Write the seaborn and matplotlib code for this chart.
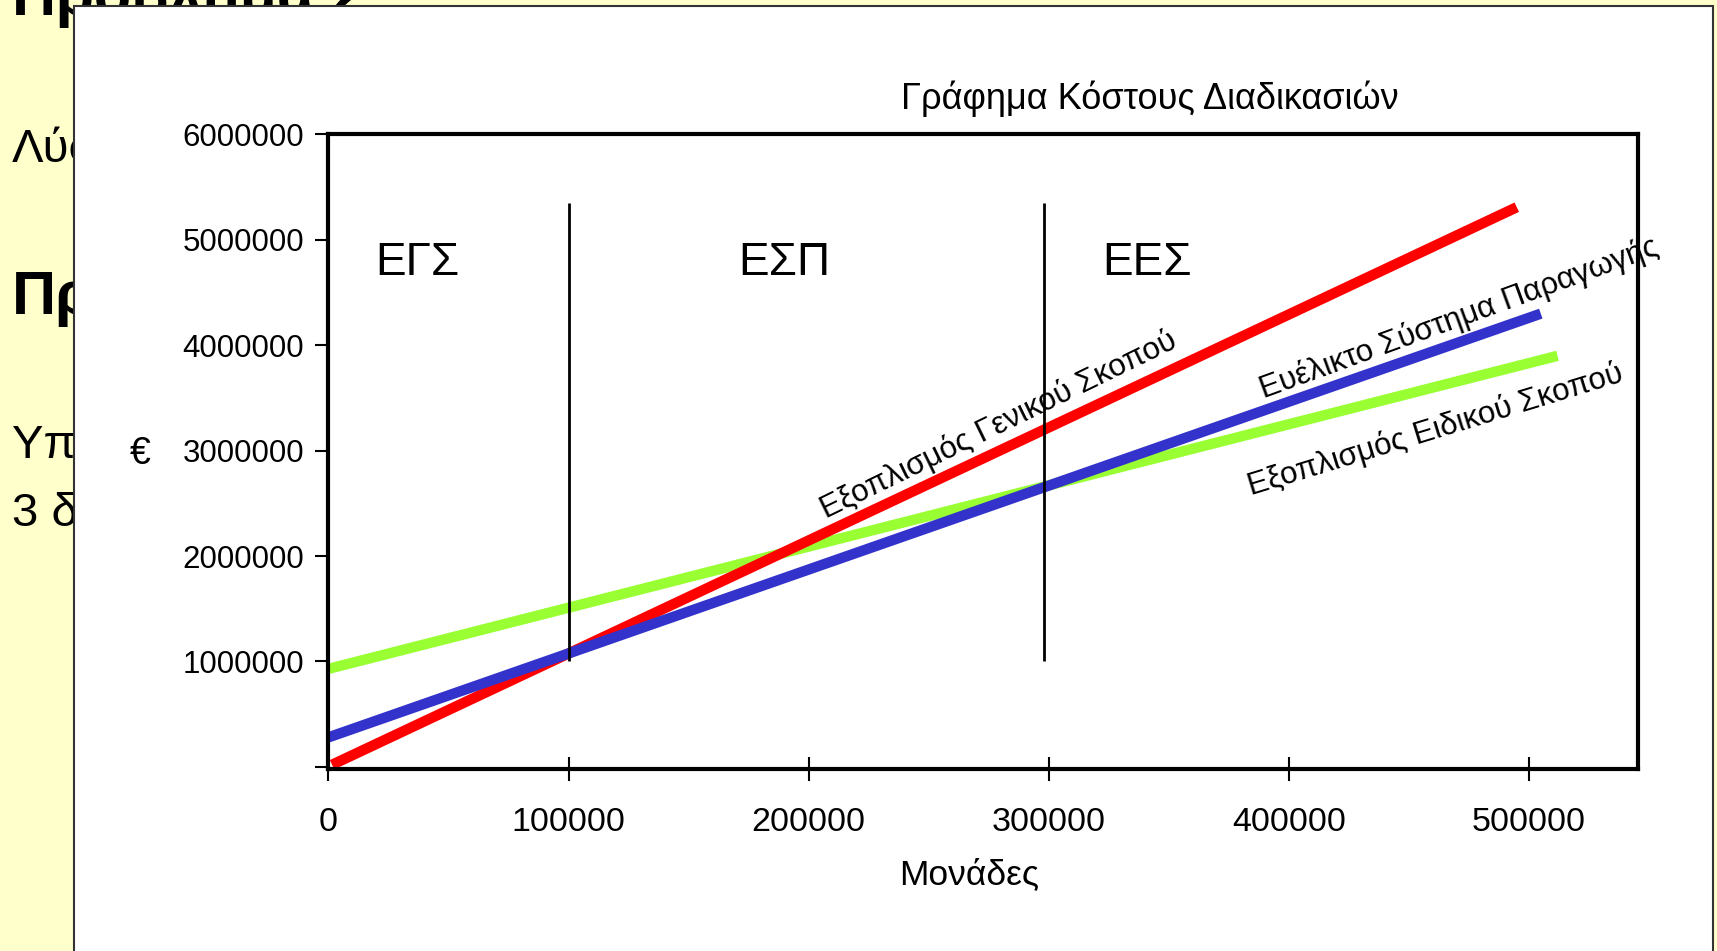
import matplotlib
matplotlib.use("Agg")
import matplotlib.pyplot as plt
from matplotlib.patches import Rectangle
import pandas as pd
import seaborn as sns

# δεδομένα κόστους (άκρα των ευθειών)
series = ["Εξοπλισμός Ειδικού Σκοπού", "Εξοπλισμός Γενικού Σκοπού", "Ευέλικτο Σύστημα Παραγωγής"]
colors = ["#99FF33", "#FF0000", "#3333CC"]
x_start = [0, 1500, 0]
x_end = [512000, 495000, 505000]
y_start = [930000, 20000, 280000]
y_end = [3900000, 5310000, 4300000]

# όρια περιοχών
bounds = [100000, 298000]
bound_low = 1000000
bound_high = 5350000
regions = ["ΕΓΣ", "ΕΣΠ", "ΕΕΣ"]
region_x = [37000, 190000, 341000]
region_y = 4780000

# ετικέτες πάνω στις ευθείες
lab_text = ["Εξοπλισμός Γενικού Σκοπού", "Ευέλικτο Σύστημα Παραγωγής", "Εξοπλισμός Ειδικού Σκοπού"]
lab_x = [279000, 471000, 461000]
lab_y = [3240000, 4260000, 3200000]
lab_rot = [26, 20, 17]

xticks = [0, 100000, 200000, 300000, 400000, 500000]
yticks = [0, 1000000, 2000000, 3000000, 4000000, 5000000, 6000000]
ytick_labels = [""] + [str(v) for v in yticks[1:]]

# κομμάτια κειμένου της διαφάνειας που φαίνονται πίσω από το γράφημα
slide_text = ["Πρόβλημα 2", "Λύση", "Πρόβ", "Υπά", "3 δια"]
slide_y = [0.984, 1 - 162 / 951, 1 - 314 / 951, 1 - 458 / 951, 1 - 526 / 951]
slide_bold = [True, False, True, False, False]

rows = []
for s, x0, x1, y0, y1 in zip(series, x_start, x_end, y_start, y_end):
    rows.append({"series": s, "x": x0, "y": y0})
    rows.append({"series": s, "x": x1, "y": y1})
df = pd.DataFrame(rows)

sns.set_style("white")
plt.rcParams["font.family"] = ["Liberation Sans", "DejaVu Sans"]
plt.rcParams["text.color"] = "black"
plt.rcParams["axes.labelcolor"] = "black"
plt.rcParams["xtick.color"] = "black"
plt.rcParams["ytick.color"] = "black"

fig = plt.figure(figsize=(17.17, 9.51), dpi=100)
fig.patch.set_facecolor("#FFFFCC")

for t, ty, b in zip(slide_text, slide_y, slide_bold):
    fig.text(0.007, ty, t, fontsize=44 if b else 34,
             fontweight="bold" if b else "normal", zorder=-3)

fig.patches.append(Rectangle((74 / 1717, -0.1), (1713 - 74) / 1717, 1.1 - 6 / 951,
                             transform=fig.transFigure, facecolor="white",
                             edgecolor="#333333", linewidth=1.5, zorder=-1))

ax = fig.add_axes([0.1913, 0.1914, 0.954 - 0.1913, 0.8586 - 0.1914])
ax.set_facecolor("none")

sns.lineplot(data=df, x="x", y="y", hue="series", hue_order=series, palette=colors,
             linewidth=7.5, legend=False, ax=ax)
for line in ax.get_lines():
    line.set_solid_capstyle("butt")

ax.vlines(bounds, bound_low, bound_high, color="black", linewidth=2)

for r, rx in zip(regions, region_x):
    ax.text(rx, region_y, r, fontsize=33, ha="center", va="center")

for t, lx, ly, rot in zip(lab_text, lab_x, lab_y, lab_rot):
    ax.text(lx, ly, t, fontsize=22.5, ha="center", va="center", rotation=rot,
            rotation_mode="anchor")

ax.set_xlim(0, 545500)
ax.set_ylim(-20000, 6000000)
ax.set_xticks(xticks)
ax.set_xticklabels([str(v) for v in xticks])
ax.set_yticks(yticks)
ax.set_yticklabels(ytick_labels)
ax.tick_params(axis="y", direction="out", length=9.5, width=1.5, pad=8, labelsize=22.5, left=True)
ax.tick_params(axis="x", direction="inout", length=17, width=1.5, pad=19, labelsize=24.5, bottom=True)
for sp in ax.spines.values():
    sp.set_visible(True)
    sp.set_color("black")
    sp.set_linewidth(3)

ax.set_xlabel("Μονάδες", fontsize=25.5)
ax.xaxis.set_label_coords(0.4895, -0.167)
ax.xaxis.label.set_va("center")
ax.set_ylabel("€", fontsize=27, rotation=0)
ax.yaxis.set_label_coords(-0.144, 0.496)
ax.yaxis.label.set_va("center")
ax.yaxis.label.set_ha("center")

fig.text(1150 / 1717, 1 - 98.5 / 951, "Γράφημα Κόστους Διαδικασιών", fontsize=26,
         ha="center", va="center")

fig.savefig("out.png", dpi=100, facecolor=fig.get_facecolor())
